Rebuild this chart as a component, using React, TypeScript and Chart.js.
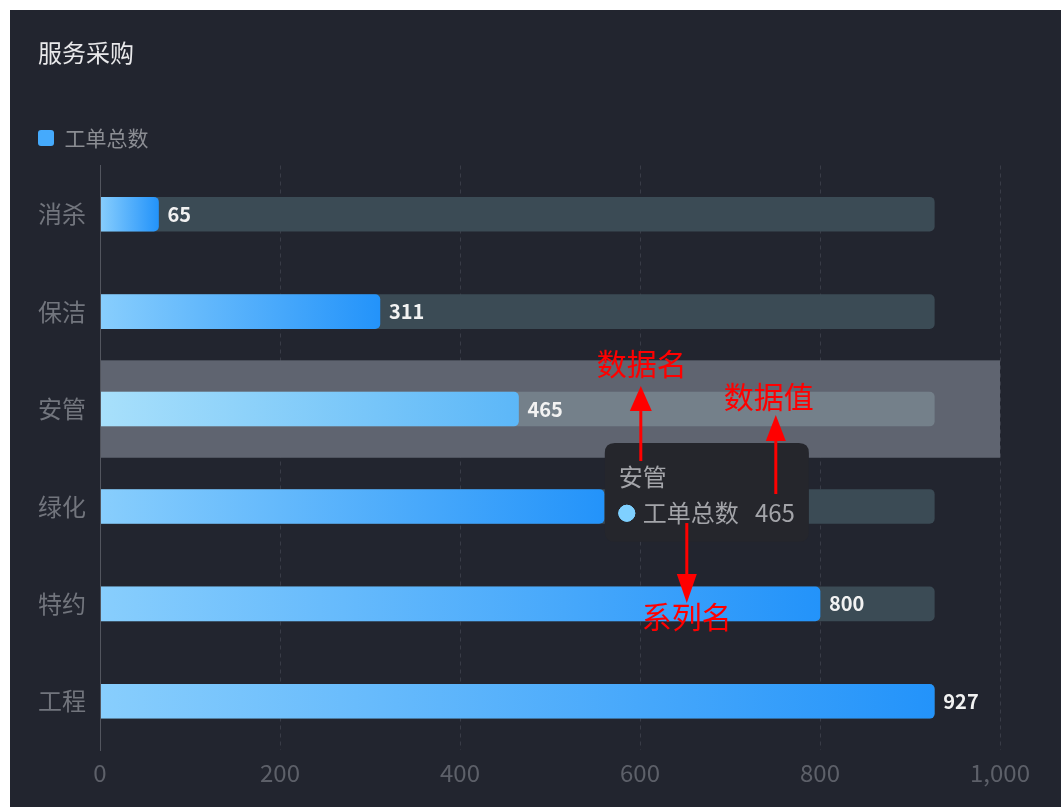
import React, { useEffect, useRef } from 'react';
import { Chart, registerables, Tooltip } from 'chart.js';

Chart.register(...registerables);

// ---- data ----
const chartTitle = '服务采购';
const seriesName = '工单总数';
const categories = ['消杀', '保洁', '安管', '绿化', '特约', '工程'];
const orderCounts = [65, 311, 465, 560, 800, 927];
const trackValues = [927, 927, 927, 927, 927, 927];
const xMin = 0;
const xMax = 1000;
const xStep = 200;
const highlightIndex = 2; // 安管 (hovered)
const pointerValue = 572; // mouse position along the value axis
const pointerOffsetY = 34;

const FONT = '"Noto Sans CJK SC", "Noto Sans", sans-serif';
Chart.defaults.font.family = FONT;

(Tooltip as any).positioners.pointer = function (_items: any, eventPosition: any) {
  return eventPosition;
};

function barGradient(ctx: any, from: string, to: string, fallback: string) {
  const chart = ctx.chart;
  const parsed = ctx.parsed;
  if (!chart || !chart.scales || !chart.scales.x || !parsed) return fallback;
  const xs = chart.scales.x;
  const x0 = xs.getPixelForValue(0);
  const x1 = xs.getPixelForValue(parsed.x);
  if (!isFinite(x0) || !isFinite(x1) || x1 === x0) return fallback;
  const g = chart.ctx.createLinearGradient(x0, 0, x1, 0);
  g.addColorStop(0, from);
  g.addColorStop(1, to);
  return g;
}

const bandPlugin = {
  id: 'hoverBand',
  beforeDatasetsDraw(chart: any) {
    const { ctx, chartArea, scales } = chart;
    const y = scales.y;
    const step = (chartArea.bottom - chartArea.top) / categories.length;
    const cy = y.getPixelForValue(highlightIndex);
    ctx.save();
    ctx.fillStyle = '#5f6470';
    ctx.fillRect(chartArea.left, cy - step / 2, chartArea.right - chartArea.left, step);
    ctx.restore();
  },
};

const valueLabelPlugin = {
  id: 'valueLabels',
  afterDatasetsDraw(chart: any) {
    const { ctx } = chart;
    const meta = chart.getDatasetMeta(0);
    ctx.save();
    ctx.font = `bold 20px ${FONT}`;
    ctx.fillStyle = '#f2f2f2';
    ctx.textAlign = 'left';
    ctx.textBaseline = 'middle';
    meta.data.forEach((bar: any, i: number) => {
      ctx.fillText(String(orderCounts[i]), bar.x + 9, bar.y);
    });
    ctx.restore();
  },
};

function drawArrow(ctx: CanvasRenderingContext2D, x: number, yFrom: number, yTip: number, headLen: number, halfW: number) {
  const dir = yTip < yFrom ? -1 : 1;
  const yBase = yTip - dir * headLen;
  ctx.beginPath();
  ctx.moveTo(x, yFrom);
  ctx.lineTo(x, yBase);
  ctx.stroke();
  ctx.beginPath();
  ctx.moveTo(x, yTip);
  ctx.lineTo(x - halfW, yBase);
  ctx.lineTo(x + halfW, yBase);
  ctx.closePath();
  ctx.fill();
}

const annotationPlugin = {
  id: 'annotations',
  afterDraw(chart: any) {
    const tt = chart.tooltip;
    if (!tt || !tt.opacity) return;
    const tx = tt.x;
    const ty = tt.y;
    const { ctx } = chart;
    ctx.save();
    ctx.strokeStyle = '#ff0000';
    ctx.fillStyle = '#ff0000';
    ctx.lineWidth = 3;
    drawArrow(ctx, tx + 36, ty + 18, ty - 57, 25, 11);
    drawArrow(ctx, tx + 171, ty + 51, ty - 28, 26, 10);
    drawArrow(ctx, tx + 82, ty + 80, ty + 160, 29, 10);
    ctx.font = `30px ${FONT}`;
    ctx.textAlign = 'center';
    ctx.textBaseline = 'middle';
    ctx.fillText('数据名', tx + 37, ty - 79);
    ctx.fillText('数据值', tx + 164, ty - 46);
    ctx.fillText('系列名', tx + 82, ty + 174);
    ctx.restore();
  },
};

export default function App() {
  const canvasRef = useRef<HTMLCanvasElement | null>(null);

  useEffect(() => {
    const canvas = canvasRef.current;
    if (!canvas) return;
    const chart = new Chart(canvas, {
      type: 'bar',
      data: {
        labels: categories,
        datasets: [
          {
            label: seriesName,
            data: orderCounts,
            xAxisID: 'x',
            yAxisID: 'y',
            order: 0,
            grouped: false,
            barThickness: 34,
            borderRadius: 5,
            borderSkipped: 'start',
            backgroundColor: (ctx: any) => barGradient(ctx, '#88cefd', '#2393fa', '#3aa3fb'),
            hoverBackgroundColor: (ctx: any) => barGradient(ctx, '#a8e0fb', '#5cb7f8', '#7fcaf9'),
          } as any,
          {
            label: 'track',
            data: trackValues,
            xAxisID: 'x',
            yAxisID: 'y',
            order: 1,
            grouped: false,
            barThickness: 34,
            borderRadius: 5,
            borderSkipped: 'start',
            backgroundColor: '#3b4b55',
            hoverBackgroundColor: '#74808a',
          } as any,
        ],
      },
      options: {
        indexAxis: 'y',
        responsive: false,
        maintainAspectRatio: false,
        animation: false,
        events: [],
        layout: { padding: { top: 0, left: 28, right: 61, bottom: 12.2 } },
        scales: {
          x: {
            type: 'linear',
            position: 'bottom',
            min: xMin,
            max: xMax,
            ticks: { stepSize: xStep, color: '#5d6069', font: { size: 24 }, padding: 8 },
            grid: { color: '#393c47', drawTicks: false },
            border: { display: false, dash: [4, 4] },
          },
          spacer: {
            type: 'linear',
            position: 'top',
            axis: 'x',
            display: true,
            ticks: { display: false },
            grid: { display: false, drawTicks: false },
            border: { display: false },
            afterFit: (s: any) => {
              s.height = 7;
            },
          } as any,
          y: {
            type: 'category',
            position: 'left',
            ticks: { color: '#72757d', font: { size: 24 }, padding: 14 },
            grid: { display: false, drawTicks: false },
            border: { display: true, color: '#52555e', width: 1, z: 1 },
            afterFit: (s: any) => {
              s.width = 62;
            },
          },
        },
        plugins: {
          title: {
            display: true,
            text: chartTitle,
            align: 'start',
            color: '#e9e9eb',
            font: { size: 24, weight: 'normal' },
            padding: { top: 28, bottom: 60.7 },
          },
          legend: {
            display: true,
            position: 'top',
            align: 'start',
            labels: {
              padding: 0,
              boxWidth: 16,
              boxHeight: 16,
              color: '#8b8d93',
              font: { size: 21 },
              useBorderRadius: true,
              borderRadius: 3,
              filter: (item: any) => item.datasetIndex === 0,
              generateLabels: () => [
                {
                  text: seriesName,
                  fillStyle: '#45aafc',
                  strokeStyle: '#45aafc',
                  lineWidth: 0,
                  fontColor: '#8b8d93',
                  hidden: false,
                  datasetIndex: 0,
                  borderRadius: 3,
                } as any,
              ],
            },
          },
          tooltip: {
            enabled: true,
            position: 'pointer' as any,
            xAlign: 'left',
            yAlign: 'top',
            caretSize: 0,
            caretPadding: 0,
            cornerRadius: 10,
            backgroundColor: '#25262c',
            titleColor: '#a3a4a9',
            bodyColor: '#a3a4a9',
            titleFont: { size: 24, weight: 'normal' },
            bodyFont: { size: 24 },
            titleMarginBottom: 8,
            padding: { top: 19, bottom: 14, left: 14, right: 14 },
            displayColors: true,
            usePointStyle: true,
            boxWidth: 16,
            boxHeight: 16,
            boxPadding: 6,
            multiKeyBackground: '#7fd0ff',
            filter: (item: any) => item.datasetIndex === 0,
            callbacks: {
              title: (items: any[]) => (items.length ? items[0].label : ''),
              label: (item: any) => `${item.dataset.label}   ${item.parsed.x}`,
              labelColor: () => ({ borderColor: '#7fd0ff', backgroundColor: '#7fd0ff', borderWidth: 0 } as any),
              labelPointStyle: () => ({ pointStyle: 'circle', rotation: 0 } as any),
            },
          },
        },
      } as any,
      plugins: [bandPlugin, valueLabelPlugin, annotationPlugin],
    });

    chart.setActiveElements([
      { datasetIndex: 0, index: highlightIndex },
      { datasetIndex: 1, index: highlightIndex },
    ]);
    chart.update();
    const px = chart.scales.x.getPixelForValue(pointerValue);
    const py = chart.scales.y.getPixelForValue(highlightIndex) + pointerOffsetY;
    chart.tooltip?.setActiveElements([{ datasetIndex: 0, index: highlightIndex }], { x: px, y: py });
    chart.draw();

    return () => {
      chart.destroy();
    };
  }, []);

  return (
    <div
      style={{
        position: 'absolute',
        left: 10,
        top: 10,
        width: 1051,
        height: 797,
        background: '#22252f',
        overflow: 'hidden',
      }}
    >
      <canvas ref={canvasRef} width={1051} height={797} style={{ display: 'block' }} />
    </div>
  );
}
